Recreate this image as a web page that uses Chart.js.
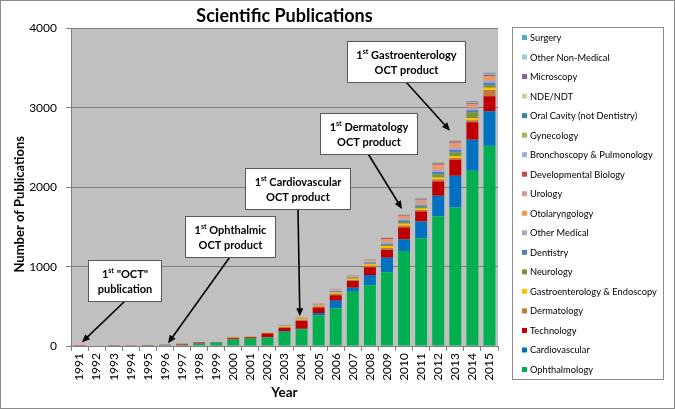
<!DOCTYPE html>
<html>
<head>
<meta charset="utf-8">
<script src="https://cdn.jsdelivr.net/npm/chart.js@4.4.1/dist/chart.umd.min.js"></script>
<style>
  html, body { margin: 0; padding: 0; background: #fff; }
  canvas { display: block; }
</style>
</head>
<body>
<canvas id="pubChart" width="675" height="409"></canvas>
<script>
const years = ['1991','1992','1993','1994','1995','1996','1997','1998','1999','2000','2001','2002','2003',
  '2004','2005','2006','2007','2008','2009','2010','2011','2012','2013','2014','2015'];

// stacked bottom to top
const ophthalmology   = [0,0,0,0,2,8,8,28,42,81,93,106,175,210,388,472,683,767,928,1197,1358,1631,1745,2209,2525];
const cardiovascular  = [0,0,0,0,0,5,2,5,3,2,2,3,10,8,29,97,50,127,185,148,210,262,400,390,434];
const technology      = [4,0,4,2,4,2,10,10,3,15,15,48,43,98,68,72,85,97,97,147,126,181,203,222,190];
const dermatology     = [1,0,1,1,2,0,8,3,2,10,4,6,12,15,14,18,15,20,25,25,20,25,20,25,76];
const gastro          = [0,0,0,0,0,0,0,0,0,2,3,6,10,12,12,15,15,20,25,25,20,25,25,25,29];
const neurology       = [0,0,0,0,0,0,2,1,1,2,1,2,3,4,5,8,8,10,15,20,20,40,45,76,34];
const dentistry       = [0,0,0,0,0,0,0,0,0,1,1,1,3,4,5,8,7,10,15,20,20,30,35,25,29];
const otherMedical    = [0,0,0,0,0,0,0,1,1,1,1,2,5,6,7,10,10,15,25,25,25,35,35,30,34];
const otolaryngology  = [0,0,0,0,0,0,0,0,0,1,2,2,5,5,6,10,10,12,20,20,20,30,30,25,29];
const urology         = [0,0,0,0,0,0,0,0,0,0,0,1,2,2,3,5,5,8,15,15,18,25,25,20,21];
const devBiology      = [0,0,0,0,0,0,0,0,0,0,0,0,1,1,2,3,3,5,10,10,10,15,15,12,13];
const bronchoscopy    = [0,0,0,0,0,0,0,0,0,0,0,0,1,1,1,2,2,3,5,6,6,10,10,12,8];
const gynecology      = [0,0,0,0,0,0,0,0,0,0,0,0,0,0,0,0,0,1,2,3,4,6,6,5,6];
const oralCavity      = [0,0,0,0,0,0,0,0,0,0,0,0,0,0,0,0,0,1,1,1,2,4,3,4,5];
const ndeNdt          = [0,0,0,0,0,0,0,0,0,0,0,0,0,0,0,0,0,0,1,1,1,2,2,2,3];
const microscopy      = [0,0,0,0,0,0,0,0,0,0,0,0,0,0,0,0,0,0,1,1,1,2,1,2,4];
const otherNonMedical = [0,0,0,0,0,0,0,0,0,0,0,0,0,0,0,0,0,0,0,1,1,1,1,1,2];
const surgery         = [0,0,0,0,0,0,0,0,0,0,0,0,0,0,0,0,0,0,0,0,1,1,0,1,1];

// callouts: tip = [category index, value], box = centre [category index, value]
const callouts = [
  { sup: '"OCT"', rest: 'publication', tip: [0.14, 47], box: [2.63, 824] },
  { sup: 'Ophthalmic', rest: 'OCT product', tip: [5.18, 34], box: [8.78, 1374] },
  { sup: 'Cardiovascular', rest: 'OCT product', tip: [12.9, 375], box: [12.79, 1981] },
  { sup: 'Dermatology', rest: 'OCT product', tip: [18.88, 1728], box: [16.92, 2682] },
  { sup: 'Gastroenterology', rest: 'OCT product', tip: [21.69, 2714], box: [19.14, 3580] }
];

const FONT = 'Lato, "Open Sans", sans-serif';
Chart.defaults.font.family = FONT;
Chart.defaults.color = '#000';

const series = [
  ['Ophthalmology', ophthalmology, '#00B050'],
  ['Cardiovascular', cardiovascular, '#0070C0'],
  ['Technology', technology, '#C00000'],
  ['Dermatology', dermatology, '#C0783C'],
  ['Gastroenterology & Endoscopy', gastro, '#FFC000'],
  ['Neurology', neurology, '#77933C'],
  ['Dentistry', dentistry, '#4F81BD'],
  ['Other Medical', otherMedical, '#B3A2C7'],
  ['Otolaryngology', otolaryngology, '#F79646'],
  ['Urology', urology, '#D99694'],
  ['Developmental Biology', devBiology, '#C0504D'],
  ['Bronchoscopy & Pulmonology', bronchoscopy, '#95B3D7'],
  ['Gynecology', gynecology, '#9BBB59'],
  ['Oral Cavity (not Dentistry)', oralCavity, '#31859C'],
  ['NDE/NDT', ndeNdt, '#C3D69B'],
  ['Microscopy', microscopy, '#8064A2'],
  ['Other Non-Medical', otherNonMedical, '#93CDDD'],
  ['Surgery', surgery, '#4BACC6']
];

const backdrop = {
  id: 'backdrop',
  beforeDraw(chart) {
    const { ctx, chartArea: a } = chart;
    ctx.save();
    ctx.fillStyle = '#fff';
    ctx.fillRect(0, 0, chart.width, chart.height);
    ctx.fillStyle = '#C0C0C0';
    ctx.fillRect(a.left, a.top, a.right - a.left, a.bottom - a.top);
    ctx.restore();
  },
  afterDraw(chart) {
    const { ctx, chartArea: a } = chart;
    ctx.save();
    ctx.strokeStyle = '#8c8c8c';
    ctx.lineWidth = 1;
    ctx.strokeRect(0.5, 0.5, chart.width - 1, chart.height - 1);
    // y axis title, sitting a little below the plot centre as in the original
    ctx.translate(20, (a.top + a.bottom) / 2 + 17);
    ctx.rotate(-Math.PI / 2);
    ctx.fillStyle = '#000';
    ctx.font = 'bold 13px ' + FONT;
    ctx.textAlign = 'center';
    ctx.textBaseline = 'middle';
    ctx.fillText('Number of Publications', 0, 0);
    ctx.restore();
  }
};

const sideLegend = {
  id: 'sideLegend',
  afterDraw(chart) {
    const ctx = chart.ctx;
    const left = chart.chartArea.right + 14;
    ctx.save();
    ctx.strokeStyle = '#8c8c8c';
    ctx.lineWidth = 1;
    ctx.strokeRect(left + 0.5, 27.5, 151, 352);
    ctx.font = '9.3px ' + FONT;
    ctx.textBaseline = 'middle';
    ctx.textAlign = 'left';
    const sets = chart.data.datasets.slice().reverse();
    sets.forEach((ds, i) => {
      const y = 37.5 + i * 19.53;
      ctx.fillStyle = ds.backgroundColor;
      ctx.fillRect(left + 10, y - 2.5, 5, 5);
      ctx.fillStyle = '#000';
      ctx.fillText(ds.label, left + 18, y + 0.5);
    });
    ctx.restore();
  }
};

const calloutPlugin = {
  id: 'callouts',
  afterDatasetsDraw(chart) {
    const { ctx, scales: { x, y } } = chart;
    ctx.save();
    callouts.forEach(c => {
      const bx = x.getPixelForValue(c.box[0]);
      const by = y.getPixelForValue(c.box[1]);
      const tx = x.getPixelForValue(c.tip[0]);
      const ty = y.getPixelForValue(c.tip[1]);
      const big = 'bold 11px ' + FONT;
      const small = 'bold 7px ' + FONT;
      ctx.font = big;
      const w1 = ctx.measureText('1').width;
      const w3 = ctx.measureText(' ' + c.sup).width;
      const w4 = ctx.measureText(c.rest).width;
      ctx.font = small;
      const w2 = ctx.measureText('st').width;
      const line1 = w1 + w2 + w3;
      const bw = Math.round(Math.max(line1, w4) + 18);
      const bh = 41;
      const left = Math.round(bx - bw / 2) + 0.5;
      const top = Math.round(by - bh / 2) + 0.5;

      // arrow
      const sx = bx, sy = top + bh;
      const ang = Math.atan2(ty - sy, tx - sx);
      ctx.strokeStyle = '#000';
      ctx.fillStyle = '#000';
      ctx.lineWidth = 1.6;
      ctx.beginPath();
      ctx.moveTo(sx, sy);
      ctx.lineTo(tx - 6 * Math.cos(ang), ty - 6 * Math.sin(ang));
      ctx.stroke();
      ctx.beginPath();
      ctx.moveTo(tx, ty);
      ctx.lineTo(tx - 8 * Math.cos(ang) + 3.5 * Math.sin(ang), ty - 8 * Math.sin(ang) - 3.5 * Math.cos(ang));
      ctx.lineTo(tx - 8 * Math.cos(ang) - 3.5 * Math.sin(ang), ty - 8 * Math.sin(ang) + 3.5 * Math.cos(ang));
      ctx.closePath();
      ctx.fill();

      // box
      ctx.fillStyle = '#fff';
      ctx.fillRect(left, top, bw, bh);
      ctx.strokeStyle = '#595959';
      ctx.lineWidth = 1;
      ctx.strokeRect(left, top, bw, bh);

      // text
      ctx.fillStyle = '#000';
      ctx.textBaseline = 'middle';
      ctx.textAlign = 'left';
      const cx = left + bw / 2;
      const l1y = top + 13.5, l2y = top + 28.5;
      let px = cx - line1 / 2;
      ctx.font = big;
      ctx.fillText('1', px, l1y);
      px += w1;
      ctx.font = small;
      ctx.fillText('st', px, l1y - 3);
      px += w2;
      ctx.font = big;
      ctx.fillText(' ' + c.sup, px, l1y);
      ctx.textAlign = 'center';
      ctx.fillText(c.rest, cx, l2y);
    });
    ctx.restore();
  }
};

new Chart(document.getElementById('pubChart'), {
  type: 'bar',
  data: {
    labels: years,
    datasets: series.map(([label, data, color]) => ({
      label, data,
      backgroundColor: color,
      borderWidth: 0,
      barPercentage: 0.7,
      categoryPercentage: 1
    }))
  },
  options: {
    responsive: false,
    animation: false,
    layout: { padding: { left: 0, right: 177, top: 0, bottom: 0 } },
    plugins: {
      legend: { display: false },
      tooltip: { enabled: false },
      title: {
        display: true,
        text: 'Scientific Publications',
        fullSize: false,
        color: '#000',
        font: { size: 18, weight: 'bold' },
        padding: { top: 5, bottom: 2 }
      }
    },
    scales: {
      x: {
        stacked: true,
        grid: { drawOnChartArea: false, tickLength: 5, color: '#7f7f7f' },
        border: { color: '#7f7f7f' },
        ticks: { minRotation: 90, maxRotation: 90, autoSkip: false, padding: 2, font: { size: 12 } },
        title: { display: true, text: 'Year', font: { size: 13.5, weight: 'bold' }, padding: { top: 0, bottom: 8 } },
        afterFit(scale) { scale.height = 63; }
      },
      y: {
        stacked: true,
        min: 0,
        max: 4000,
        ticks: { stepSize: 1000, padding: 9, font: { size: 12 }, callback: v => String(v) },
        grid: { color: '#7f7f7f', tickLength: 5 },
        border: { color: '#7f7f7f' },
        afterFit(scale) { scale.width = 71; }
      }
    }
  },
  plugins: [backdrop, sideLegend, calloutPlugin]
});
</script>
</body>
</html>
